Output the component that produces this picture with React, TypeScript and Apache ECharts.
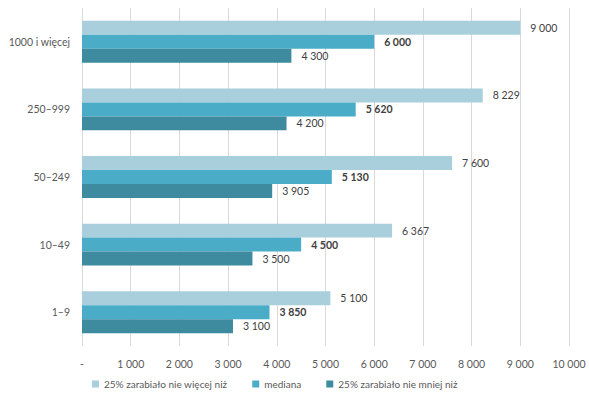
import React, { useEffect, useRef } from 'react';
import * as echarts from 'echarts';

const categories = ['1–9', '10–49', '50–249', '250–999', '1000 i więcej'];
const upperValues = [5100, 6367, 7600, 8229, 9000];
const medianValues = [3850, 4500, 5130, 5620, 6000];
const lowerValues = [3100, 3500, 3905, 4200, 4300];
const seriesNames = ['25% zarabiało nie więcej niż', 'mediana', '25% zarabiało nie mniej niż'];

const fmt = (v: number) => (v === 0 ? '-' : String(v).replace(/\B(?=(\d{3})+(?!\d))/g, ' '));

const FONT = 'Lato, "Open Sans", sans-serif';
const FS = 10.5;

const App: React.FC = () => {
  const chartRef = useRef<HTMLDivElement>(null);

  useEffect(() => {
    if (!chartRef.current) return;
    const chart = echarts.init(chartRef.current, undefined, { renderer: 'svg' });

    const label = (bold: boolean) => ({
      show: true,
      position: 'right',
      distance: 10,
      color: '#404040',
      fontSize: FS,
      fontFamily: FONT,
      fontWeight: bold ? 'bold' : 'normal',
      formatter: (p: any) => fmt(p.value),
    });

    chart.setOption({
      animation: false,
      textStyle: { fontFamily: FONT },
      grid: { left: 82, right: 20, top: 8, bottom: 59, outerBoundsMode: 'none' },
      legend: {
        bottom: 11,
        left: 87,
        itemWidth: 7,
        itemHeight: 7,
        itemGap: 25,
        icon: 'rect',
        data: seriesNames,
        textStyle: { color: '#595959', fontSize: 10, fontFamily: FONT },
      },
      xAxis: {
        type: 'value',
        min: 0,
        max: 10000,
        interval: 1000,
        axisLine: { show: false },
        axisTick: { show: false },
        axisLabel: { color: '#595959', fontSize: FS, margin: 12, formatter: fmt },
        splitLine: { lineStyle: { color: '#d9d9d9' } },
      },
      yAxis: {
        type: 'category',
        data: categories,
        axisLine: { show: false },
        axisTick: { show: false },
        axisLabel: { color: '#595959', fontSize: FS, margin: 12 },
      },
      series: [
        {
          name: seriesNames[0],
          type: 'bar',
          data: upperValues,
          itemStyle: { color: '#a9cfdc' },
          barGap: '0%',
          barCategoryGap: '38%',
          label: label(false),
        },
        {
          name: seriesNames[1],
          type: 'bar',
          data: medianValues,
          itemStyle: { color: '#4aacc6' },
          label: label(true),
        },
        {
          name: seriesNames[2],
          type: 'bar',
          data: lowerValues,
          itemStyle: { color: '#3e8a9e' },
          label: label(false),
        },
      ],
    });

    return () => {
      chart.dispose();
    };
  }, []);

  return (
    <div
      ref={chartRef}
      style={{ position: 'absolute', left: 0, top: 0, width: 589, height: 405, background: '#fff' }}
    />
  );
};

export default App;
